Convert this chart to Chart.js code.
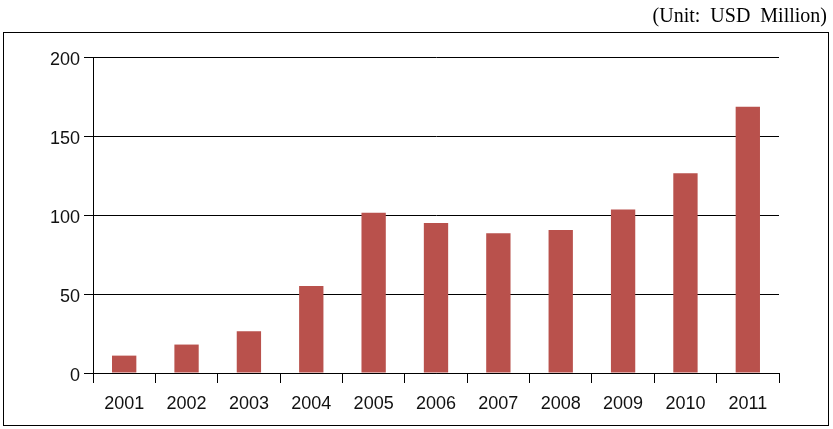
<!DOCTYPE html>
<html>
<head>
<meta charset="utf-8">
<script src="https://cdn.jsdelivr.net/npm/chart.js@4"></script>
<style>
  html, body { margin: 0; padding: 0; background: #fff; }
  #wrap { position: relative; width: 833px; height: 429px; }
  #frame { position: absolute; left: 3px; top: 32px; width: 824px; height: 392px; border: 1px solid #000; pointer-events: none; }
  #unit { position: absolute; right: 6px; top: 4px; font-family: "Liberation Serif", serif; font-size: 20px; line-height: 22px; color: #000; white-space: pre; }
  #chart { position: absolute; left: 0; top: 0; }
</style>
</head>
<body>
<div id="wrap">
  <canvas id="chart" width="833" height="429"></canvas>
  <div id="frame"></div>
  <div id="unit">(Unit:  USD  Million)</div>
</div>
<script>
const years = ["2001", "2002", "2003", "2004", "2005", "2006", "2007", "2008", "2009", "2010", "2011"];
const investment = [11, 18, 26.5, 55, 101.5, 95, 88.5, 90.5, 103.5, 126.5, 168.5];
const yTicks = [0, 50, 100, 150, 200];

const labelFont = { family: "Liberation Sans, Arial, sans-serif", size: 18 };

new Chart(document.getElementById("chart"), {
    type: "bar",
    data: {
        labels: years,
        datasets: [{
            data: investment,
            backgroundColor: "#B9514C",
            borderWidth: 0,
            categoryPercentage: 1,
            barPercentage: 0.39
        }]
    },
    options: {
        responsive: false,
        animation: false,
        layout: { padding: { left: 0, right: 54, top: 57, bottom: 0 } },
        plugins: { legend: { display: false }, tooltip: { enabled: false } },
        scales: {
            x: {
                offset: true,
                grid: {
                    offset: true,
                    drawOnChartArea: false,
                    color: "#000",
                    tickLength: 10,
                    lineWidth: 1
                },
                border: { color: "#000", width: 1 },
                ticks: { color: "#111", font: labelFont, padding: 10 },
                afterFit: s => { s.height = 56; }
            },
            y: {
                min: 0,
                max: 200,
                afterBuildTicks: s => { s.ticks = yTicks.map(v => ({ value: v })); },
                grid: { color: "#000", tickLength: 9, lineWidth: 1 },
                border: { color: "#000", width: 1 },
                ticks: { color: "#111", font: labelFont, padding: 4, labelOffset: 3 },
                afterFit: s => { s.width = 93; }
            }
        }
    }
});
</script>
</body>
</html>
